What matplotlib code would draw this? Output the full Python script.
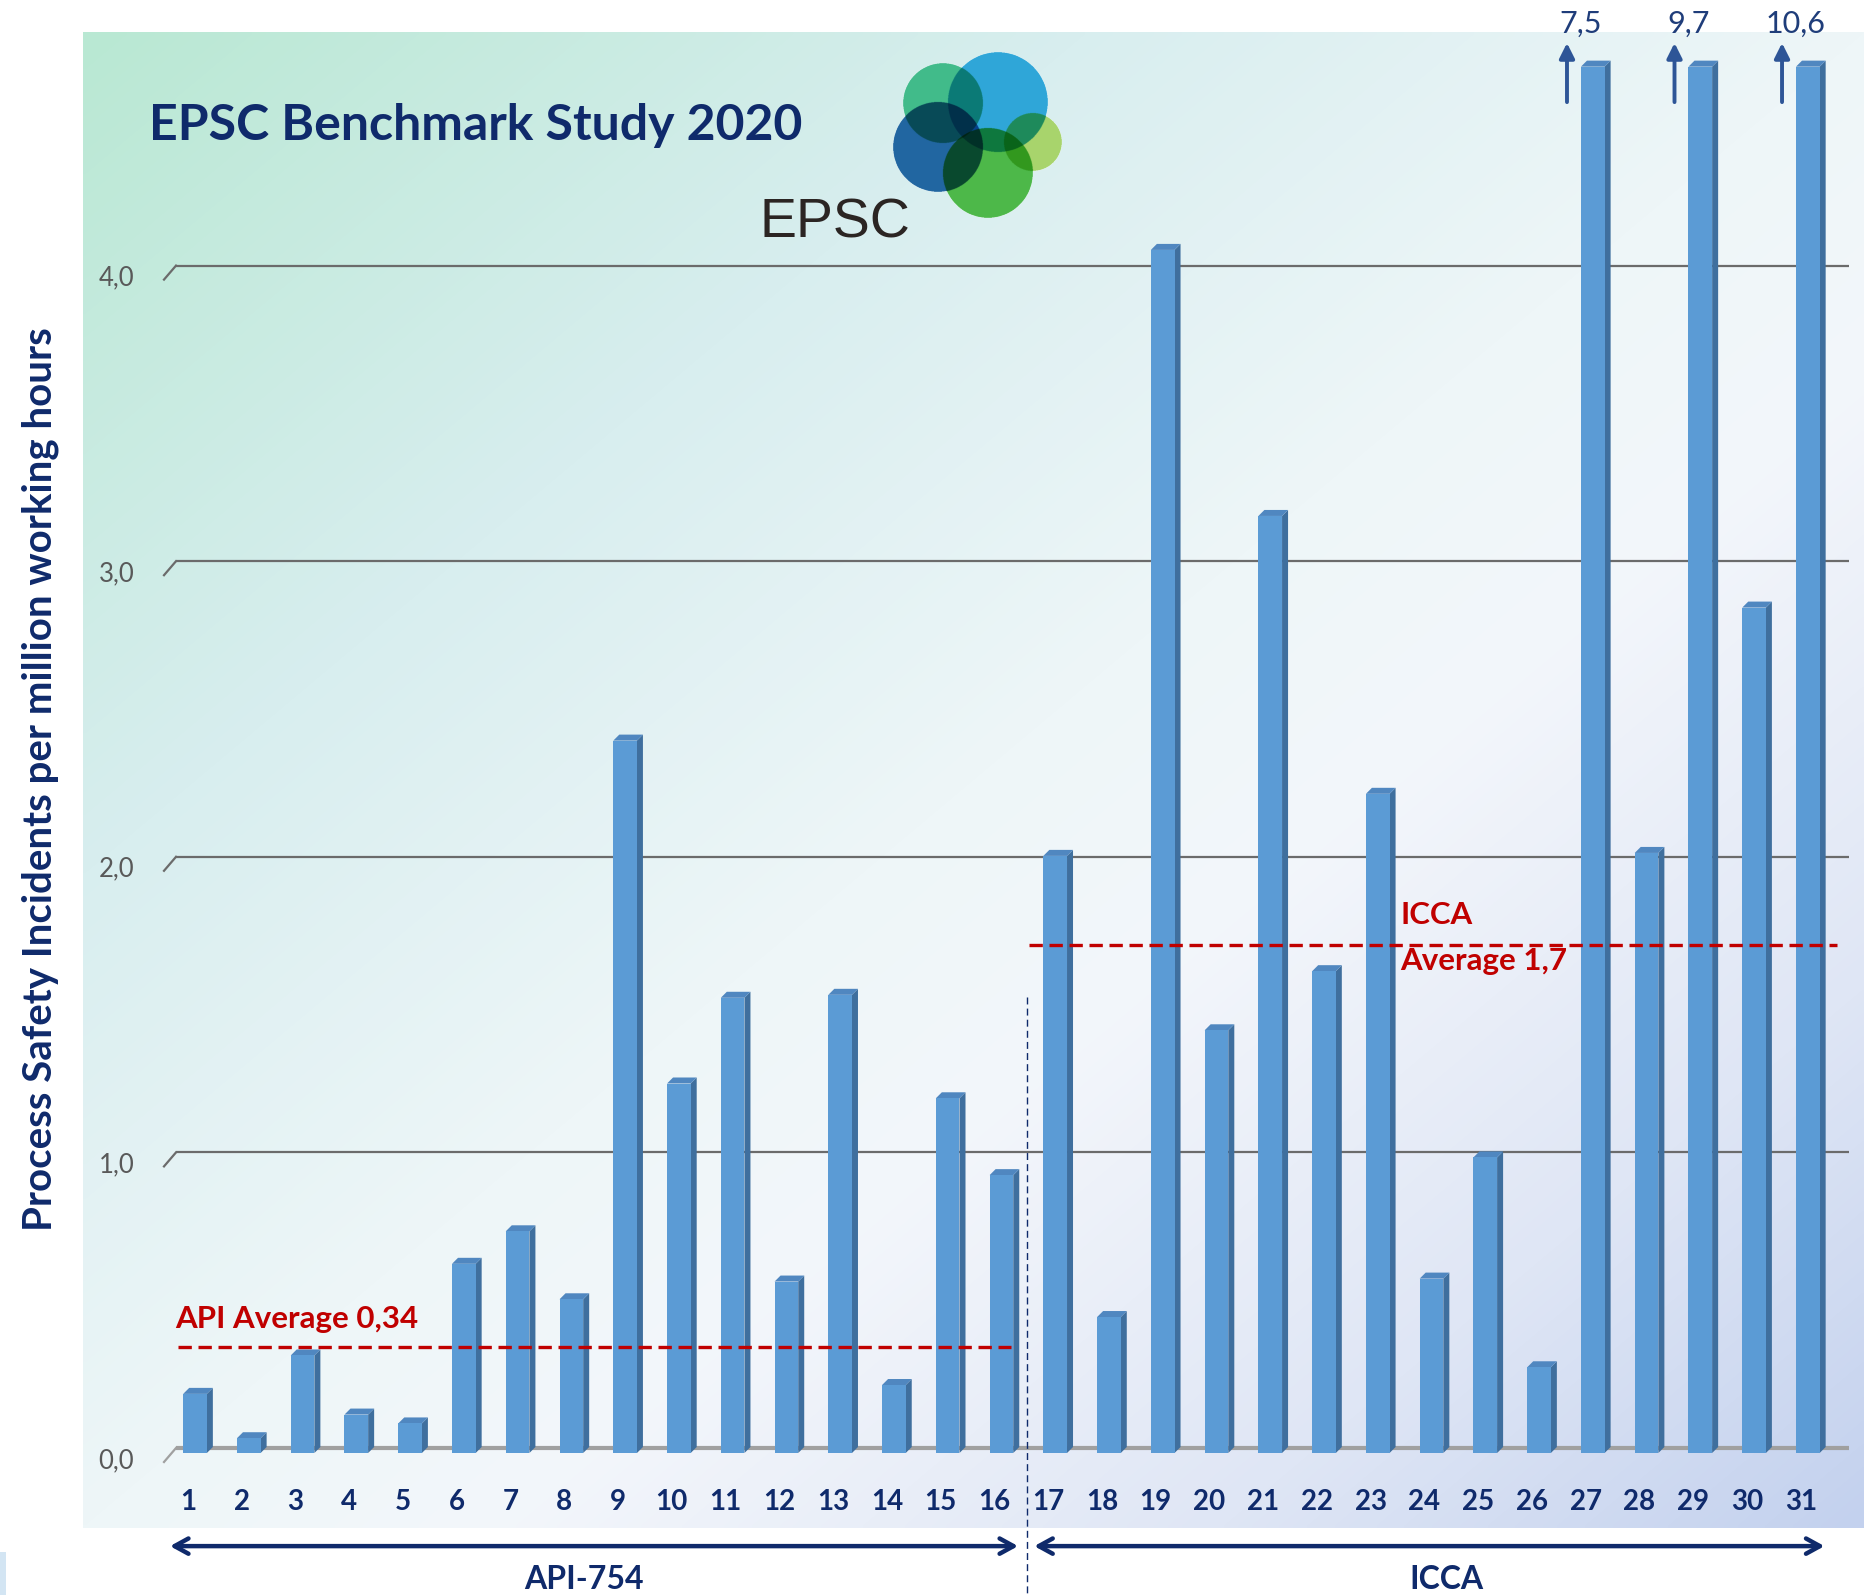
import numpy as np
import matplotlib
matplotlib.use("Agg")
import matplotlib.pyplot as plt
from matplotlib import transforms as mtransforms
from matplotlib.collections import PolyCollection
from matplotlib.colors import LinearSegmentedColormap, to_rgb
from matplotlib.patches import Rectangle

# === DATA ===
companies = list(range(1, 32))
values = [0.20, 0.05, 0.33, 0.13, 0.10, 0.64, 0.75, 0.52, 2.41, 1.25,
          1.54, 0.58, 1.55, 0.23, 1.20, 0.94, 2.02, 0.46, 4.07, 1.43,
          3.17, 1.63, 2.23, 0.59, 1.00, 0.29, 7.5, 2.03, 9.7, 2.86, 10.6]
y_ticks = [0, 1, 2, 3, 4]
y_tick_labels = ["0,0", "1,0", "2,0", "3,0", "4,0"]
api_avg = 0.34
icca_avg = 1.7
api_label = "API Average 0,34"
icca_label = ["ICCA", "Average 1,7"]
groups = ["API-754", "ICCA"]
title = "EPSC Benchmark Study 2020"
ylabel = "Process Safety Incidents per million working hours"

# === STYLE ===
NAVY = "#0f2a6b"
RED = "#c00000"
BAR_FRONT = "#5b9bd5"
BAR_SIDE = "#3f6f9e"
BAR_TOP = "#5087c0"
GRID = "#6b6b6b"
Y_MAX = 4.8
CAP = 4.69          # axis break height for the off-scale bars
BAR_W = 0.44

plt.rcParams["font.family"] = ["Lato", "DejaVu Sans"]

W_PX, H_PX = 1865, 1595
fig = plt.figure(figsize=(W_PX / 100, H_PX / 100), dpi=100)

# --- background gradient panel ---
bg = fig.add_axes([83 / W_PX, 1 - 1528 / H_PX, 1 - 83 / W_PX, (1528 - 32) / H_PX])
bg_cmap = LinearSegmentedColormap.from_list(
    "bg", list(zip([0, 0.28, 0.5, 0.62, 0.82, 1.0],
                   ["#b9e8d3", "#d8eeef", "#eef6f8", "#f3f6fb", "#dfe6f5", "#c3d1ee"])))
yy, xx = np.mgrid[0:1:300j, 0:1:360j]
bg.imshow((xx + yy) / 2, cmap=bg_cmap, vmin=0, vmax=1, aspect="auto",
          extent=(0, 1, 1, 0), interpolation="bilinear")
bg.axis("off")
fig.patches.append(Rectangle((0, 0), 6 / W_PX, 43 / H_PX, transform=fig.transFigure,
                             facecolor="#d3e5f3", edgecolor="none"))

# --- main axes (front plane of the bars) ---
AX_LEFT, AX_BOT = 176, 1453
PPX, PPY = 53.76, 295.6          # pixels per data unit
x_lo, x_hi = 0.646, 31.774
ax = fig.add_axes([AX_LEFT / W_PX, 1 - AX_BOT / H_PX,
                   (x_hi - x_lo) * PPX / W_PX, Y_MAX * PPY / H_PX])
ax.set_xlim(x_lo, x_hi)
ax.set_ylim(0, Y_MAX)
ax.patch.set_alpha(0)
for s in ax.spines.values():
    s.set_visible(False)

back = mtransforms.offset_copy(ax.transData, fig=fig, x=0, y=5, units="dots")

# gridlines on the back wall + perspective stubs
for v in y_ticks:
    col, lw = (GRID, 1.6) if v > 0 else ("#a0a0a0", 3.0)
    ax.plot([x_lo, x_hi], [v, v], color=col, lw=lw, transform=back, zorder=1,
            solid_capstyle="butt")
    ax.plot([x_lo, x_lo - 12 / PPX], [v, v - 14 / PPY], color=col, lw=1.6,
            transform=back, zorder=1, clip_on=False)

ax.set_yticks(y_ticks, y_tick_labels)
ax.tick_params(axis="y", length=0, pad=30, labelsize=18.5, labelcolor="#595959")
for lbl in ax.get_yticklabels():
    lbl.set_transform(lbl.get_transform() +
                      mtransforms.ScaledTranslation(0, -0.05, fig.dpi_scale_trans))

ax.set_xticks(companies, [str(c) for c in companies])
ax.tick_params(axis="x", length=0, pad=26, labelsize=20, labelcolor=NAVY)
for lbl in ax.get_xticklabels():
    lbl.set_fontweight("bold")
    lbl.set_transform(lbl.get_transform() +
                      mtransforms.ScaledTranslation(-0.07, 0, fig.dpi_scale_trans))

# --- 3D-looking bars ---
heights = [min(v, CAP) for v in values]
ax.bar(companies, heights, width=BAR_W, color=BAR_FRONT, zorder=3)
dx, dy = 6 / PPX, 6 / PPY
sides, tops = [], []
for x, h in zip(companies, heights):
    r, l = x + BAR_W / 2, x - BAR_W / 2
    sides.append([(r, 0), (r + dx, dy), (r + dx, h + dy), (r, h)])
    tops.append([(l, h), (r, h), (r + dx, h + dy), (l + dx, h + dy)])
ax.add_collection(PolyCollection(sides, facecolors=BAR_SIDE, edgecolors="none", zorder=2.9))
ax.add_collection(PolyCollection(tops, facecolors=BAR_TOP, edgecolors="none", zorder=2.9))

# off-scale markers
for x, v in zip(companies, values):
    if v > Y_MAX:
        ax.annotate("", xy=(x - 0.48, 4.77), xytext=(x - 0.48, 4.57),
                    arrowprops=dict(arrowstyle="-|>,head_length=0.9,head_width=0.45",
                                    color="#2e5597", lw=2.8, shrinkA=0, shrinkB=0),
                    annotation_clip=False, zorder=4)
        ax.text(x - 0.22, 4.835, f"{v:.1f}".replace(".", ","), ha="center", va="center",
                fontsize=22, color="#1f3d7a", clip_on=False, zorder=4)

# --- averages ---
ax.plot([0.683, 16.17], [api_avg, api_avg], color=RED, lw=2.4, ls=(0, (4, 2)),
        transform=back, zorder=5)
ax.plot([16.52, 31.54], [icca_avg, icca_avg], color=RED, lw=2.4, ls=(0, (4, 2)),
        transform=back, zorder=5)
ax.text(0.63, 0.455, api_label, ha="left", va="center", fontsize=22.5,
        fontweight="bold", color=RED, zorder=6)
ax.text(23.42, 1.82, icca_label[0], ha="left", va="center", fontsize=22.5,
        fontweight="bold", color=RED, zorder=6)
ax.text(23.42, 1.664, icca_label[1], ha="left", va="center", fontsize=22.5,
        fontweight="bold", color=RED, zorder=6)

# --- group divider and ranges ---
ax.plot([16.48, 16.48], [1.543, -0.49], color=NAVY, lw=1.0, ls=(0, (5, 3)),
        clip_on=False, zorder=5)
for (x0, x1), name, xc in [((0.534, 16.31), groups[0], 8.23),
                           ((16.61, 31.31), groups[1], 24.28)]:
    ax.annotate("", xy=(x1, -0.315), xytext=(x0, -0.315),
                arrowprops=dict(arrowstyle="<->,head_length=1.0,head_width=0.55",
                                color=NAVY, lw=3.2, shrinkA=0, shrinkB=0),
                annotation_clip=False)
    ax.text(xc, -0.428, name, ha="center", va="center", fontsize=23,
            fontweight="bold", color=NAVY, clip_on=False)

# --- titles ---
fig.text(149 / W_PX, 1 - 125 / H_PX, title, ha="left", va="center", fontsize=36,
         fontweight="bold", color=NAVY)
fig.text(40 / W_PX, 1 - 779 / H_PX, ylabel, ha="center", va="center", rotation=90,
         fontsize=29, fontweight="bold", color=NAVY)
fig.text(760 / W_PX, 1 - 224 / H_PX, "EPSC", ha="left", va="center", fontsize=40,
         color="#2b2523", family=["Liberation Sans", "DejaVu Sans"])

# --- logo (multiplied circles) ---
circles = [(943, 103, 40, "#41bb8b"), (998, 102, 50, "#2fa7d9"),
           (938, 147, 45, "#2166a1"), (988, 173, 45, "#4db849"),
           (1033, 142, 29, "#a8d46c")]
lx0, lx1, ly0, ly1 = 888, 1072, 48, 226
logo = fig.add_axes([lx0 / W_PX, 1 - ly1 / H_PX, (lx1 - lx0) / W_PX, (ly1 - ly0) / H_PX])
ss = 3
gx, gy = np.meshgrid(np.arange(lx0, lx1, 1 / ss) + 0.5 / ss,
                     np.arange(ly0, ly1, 1 / ss) + 0.5 / ss)
rgb = np.ones(gx.shape + (3,))
alpha = np.zeros(gx.shape)
for cx, cy, r, col in circles:
    m = (gx - cx) ** 2 + (gy - cy) ** 2 <= r ** 2
    rgb[m] *= to_rgb(col)
    alpha[m] = 1
logo.imshow(np.dstack([rgb, alpha]), extent=(lx0, lx1, ly1, ly0), aspect="auto",
            interpolation="antialiased")
logo.axis("off")

fig.savefig("out.png", dpi=100)
